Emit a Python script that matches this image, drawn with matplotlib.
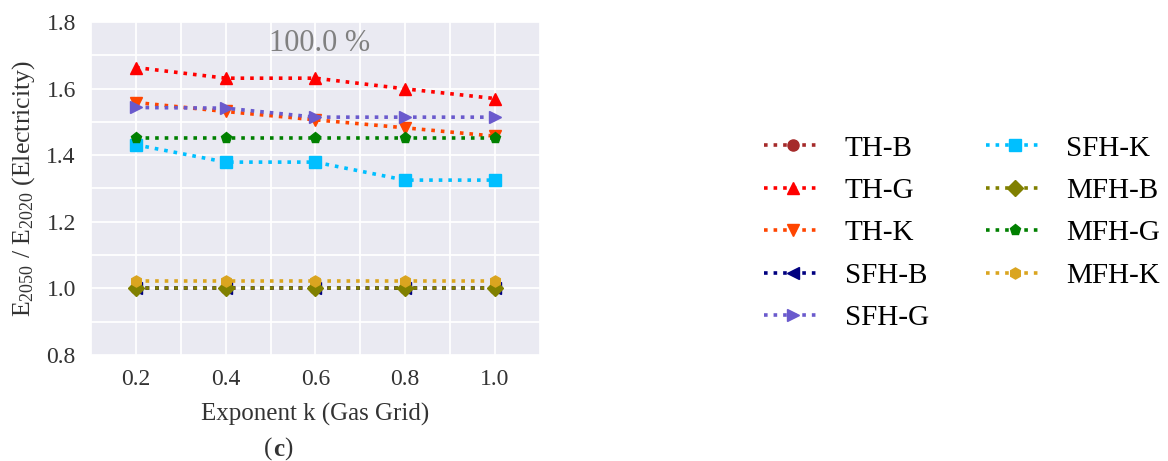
import matplotlib
matplotlib.use("Agg")
import matplotlib.pyplot as plt
from matplotlib.ticker import MultipleLocator

plt.rcParams['font.family'] = ['Liberation Serif', 'DejaVu Serif']
plt.rcParams['mathtext.fontset'] = 'custom'
plt.rcParams['mathtext.rm'] = 'Liberation Serif'
plt.rcParams['mathtext.it'] = 'Liberation Serif:italic'

k_values = [0.2, 0.4, 0.6, 0.8, 1.0]
labels = ["TH-B", "TH-G", "TH-K", "SFH-B", "SFH-G", "SFH-K", "MFH-B", "MFH-G", "MFH-K"]
th_b = [1.0, 1.0, 1.0, 1.0, 1.0]
th_g = [1.663, 1.631, 1.631, 1.599, 1.570]
th_k = [1.558, 1.531, 1.506, 1.482, 1.457]
sfh_b = [1.0, 1.0, 1.0, 1.0, 1.0]
sfh_g = [1.543, 1.541, 1.514, 1.514, 1.514]
sfh_k = [1.431, 1.379, 1.379, 1.325, 1.325]
mfh_b = [1.0, 1.0, 1.0, 1.0, 1.0]
mfh_g = [1.451, 1.451, 1.451, 1.451, 1.451]
mfh_k = [1.023, 1.023, 1.023, 1.023, 1.023]
series = [th_b, th_g, th_k, sfh_b, sfh_g, sfh_k, mfh_b, mfh_g, mfh_k]

colors = ["brown", "red", "orangered", "navy", "slateblue", "deepskyblue", "olive", "green", "goldenrod"]
markers = ["o", "^", "v", "<", ">", "s", "D", "p", "h"]

fig = plt.figure(figsize=(11.68, 4.61), dpi=100)
ax = fig.add_axes([0.078, 0.23, 0.384, 0.7225])
ax.set_facecolor("#EAEAF2")
for s in ax.spines.values():
    s.set_visible(False)

handles = []
for vals, lab, c, m in zip(series, labels, colors, markers):
    h, = ax.plot(k_values, vals, linestyle=":", color=c, marker=m, markersize=8,
                 linewidth=2.6, label=lab)
    handles.append(h)

ax.set_xlim(0.1, 1.1)
ax.set_ylim(0.8, 1.8)
ax.xaxis.set_major_locator(MultipleLocator(0.2))
ax.xaxis.set_minor_locator(MultipleLocator(0.1))
ax.yaxis.set_major_locator(MultipleLocator(0.2))
ax.yaxis.set_minor_locator(MultipleLocator(0.1))
ax.set_xticks([0.2, 0.4, 0.6, 0.8, 1.0])
ax.grid(True, which="both", color="white", linewidth=1.3)
ax.set_axisbelow(True)
ax.tick_params(which="both", length=0, labelsize=17, colors="#333333")
ax.tick_params(axis="y", pad=11)
ax.tick_params(axis="x", pad=10)
ax.set_xlabel("Exponent k (Gas Grid)", fontsize=18, color="#333333")
ax.set_ylabel(r"E$_{2050}$ / E$_{2020}$ (Electricity)", fontsize=18.5, color="#333333")
ax.xaxis.set_label_coords(0.5, -0.145)
ax.yaxis.set_label_coords(-0.12, 0.5)

ax.text(0.61, 1.735, "100.0 %", ha="center", va="center", fontsize=22, color="grey")

fig.text(0.2335, 0.024, "(", fontsize=18, ha="right", va="center", color="#333333")
fig.text(0.2335, 0.024, "c", fontsize=18, ha="left", va="center", fontweight="bold", color="#333333")
fig.text(0.2435, 0.024, ")", fontsize=18, ha="left", va="center", color="#333333")

leg = fig.legend(handles=handles, loc="center left", bbox_to_anchor=(0.632, 0.494), ncol=2,
                 frameon=False, fontsize=21, handlelength=1.95, columnspacing=1.97,
                 labelspacing=0.55, handletextpad=0.8)

fig.savefig("out.png", dpi=100)
